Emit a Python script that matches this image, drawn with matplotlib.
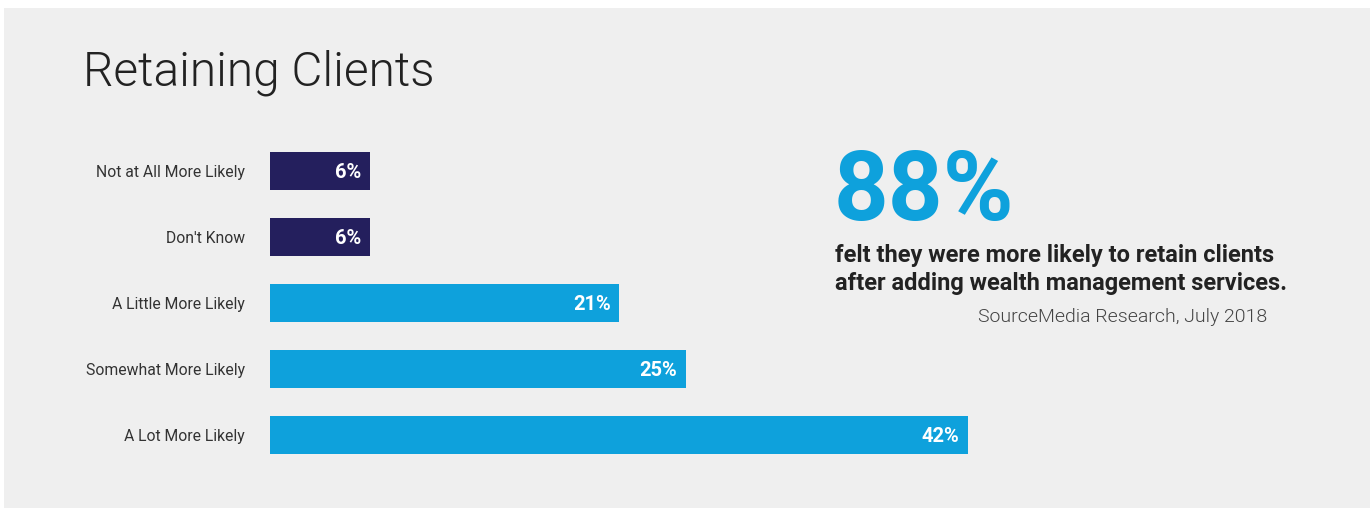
import matplotlib.pyplot as plt
from matplotlib.patches import Rectangle

W, H = 1370, 509

categories = [
    "Not at All More Likely",
    "Don't Know",
    "A Little More Likely",
    "Somewhat More Likely",
    "A Lot More Likely",
]
values = [6, 6, 21, 25, 42]
bar_colors = ["#241f5d", "#241f5d", "#0ea1dc", "#0ea1dc", "#0ea1dc"]

title = "Retaining Clients"
headline = "88%"
headline_text = ["felt they were more likely to retain clients",
                 "after adding wealth management services."]
source = "SourceMedia Research, July 2018"

plt.rcParams["font.family"] = ["Roboto", "DejaVu Sans"]

fig = plt.figure(figsize=(W / 100, H / 100), dpi=100)
fig.patch.set_facecolor("white")
fig.patches.append(Rectangle((4 / W, 1 - 508 / H), 1, 500 / H,
                             transform=fig.transFigure, facecolor="#efefef",
                             edgecolor="none", zorder=-5))

# axes: x from 270px, 16.62 px per percent; rows spaced ~66px
ax = fig.add_axes([270 / W, 1 - 468 / H, 831 / W, 330 / H])
ax.set_zorder(2)
ax.patch.set_alpha(0)
y = list(range(len(categories)))
ax.barh(y, values, height=0.58, color=bar_colors)
ax.set_xlim(0, 50)
ax.set_ylim(4.5, -0.5)
for s in ax.spines.values():
    s.set_visible(False)
ax.set_xticks([])
ax.set_yticks(y)
ax.set_yticklabels(categories, fontsize=11.3, color="#333333")
ax.tick_params(axis="y", length=0, pad=18)

for yi, v in zip(y, values):
    ax.annotate(f"{v}%", (v, yi), xytext=(-6, 0), textcoords="offset points",
                ha="right", va="center_baseline", color="white", fontsize=14.5,
                fontweight="bold")

fig.text(83 / W, 1 - 85 / H, title, fontsize=34.5, fontweight=300,
         color="#222222", va="baseline", ha="left")
fig.text(834 / W, 1 - 220 / H, headline, fontsize=69, fontweight="bold",
         color="#0ea1dc", va="baseline", ha="left")
fig.text(835 / W, 1 - 262 / H, headline_text[0], fontsize=17,
         fontweight="bold", color="#222222", va="baseline", ha="left")
fig.text(835 / W, 1 - 290 / H, headline_text[1], fontsize=17,
         fontweight="bold", color="#222222", va="baseline", ha="left")
fig.text(1267 / W, 1 - 322 / H, source, fontsize=14, fontweight=300,
         color="#444444", va="baseline", ha="right")

fig.savefig("out.png", dpi=100, facecolor=fig.get_facecolor())
